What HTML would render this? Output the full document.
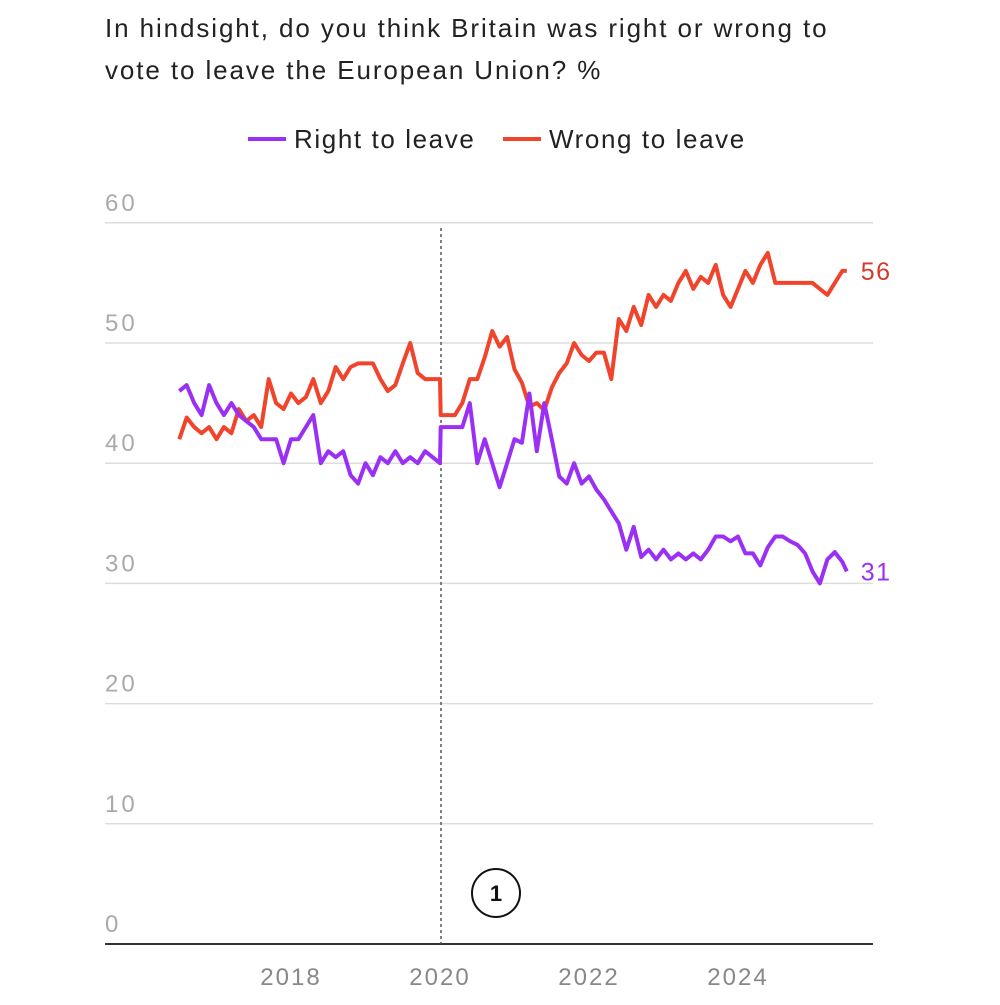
<!DOCTYPE html>
<html><head><meta charset="utf-8"><style>
body{margin:0;background:#fff;font-family:"Liberation Sans",sans-serif}
svg text{font-family:"Liberation Sans",sans-serif}
</style></head><body>
<svg width="1000" height="1000">
<text x="105" y="37" font-size="26" letter-spacing="1.9" fill="#222">In hindsight, do you think Britain was right or wrong to</text>
<text x="105" y="79" font-size="26" letter-spacing="1.9" fill="#222">vote to leave the European Union? %</text>
<g>
<line x1="248" y1="139" x2="286" y2="139" stroke="#9b30f5" stroke-width="4"/>
<text x="294" y="148" font-size="26" letter-spacing="1.6" fill="#222">Right to leave</text>
<line x1="503" y1="139" x2="541" y2="139" stroke="#f0442c" stroke-width="4"/>
<text x="549" y="148" font-size="26" letter-spacing="1.6" fill="#222">Wrong to leave</text>
</g>
<g id="grid"></g><g id="lines"></g>
</svg>
<script>
const yTicks=[0,10,20,30,40,50,60];
const xTicks=[2018,2020,2022,2024];
const years=[2016.5,2016.6,2016.7,2016.8,2016.9,2017.0,2017.1,2017.2,2017.3,2017.4,
2017.5,2017.6,2017.7,2017.8,2017.9,2018.0,2018.1,2018.2,2018.3,2018.4,
2018.5,2018.6,2018.7,2018.8,2018.9,2019.0,2019.1,2019.2,2019.3,2019.4,
2019.5,2019.6,2019.7,2019.8,2019.9,2020.0,
2020.01,
2020.1,2020.2,2020.3,2020.4,2020.5,2020.6,2020.7,2020.8,2020.9,2021.0,
2021.1,2021.2,2021.3,2021.4,2021.5,2021.6,2021.7,2021.8,2021.9,2022.0,
2022.1,2022.2,2022.3,2022.4,2022.5,2022.6,2022.7,2022.8,2022.9,2023.0,
2023.1,2023.2,2023.3,2023.4,2023.5,2023.6,2023.7,2023.8,2023.9,2024.0,
2024.1,2024.2,2024.3,2024.4,2024.5,2024.6,2024.7,2024.8,2024.9,2025.0,
2025.1,2025.2,2025.3,2025.4,2025.46];
const rightVals=[46,46.5,45,44,46.5,45,44,45,44,43.5,
43,42,42,42,40,42,42,43,44,40,
41,40.5,41,39,38.3,40,39,40.5,40,41,
40,40.5,40,41,40.5,40,
43,
43,43,43,45,40,42,40,38,40,42,
41.7,45.8,41,45,42,38.9,38.3,40,38.3,38.9,
37.8,37,36,35,32.8,34.7,32.2,32.8,32,32.8,
32,32.5,32,32.5,32,32.8,33.9,33.9,33.5,33.9,
32.5,32.5,31.5,33,33.9,33.9,33.5,33.2,32.5,31,
30,32,32.6,31.8,31];
const wrongVals=[42,43.8,43,42.5,43,42,43,42.5,44.5,43.5,
44,43,47,45,44.5,45.8,45,45.5,47,45,
46,48,47,48,48.3,48.3,48.3,47,46,46.5,
48.3,50,47.5,47,47,47,
44,
44,44,45,47,47,48.8,51,49.7,50.5,47.8,
46.7,44.7,45,44.4,46.3,47.5,48.3,50,49,48.5,
49.2,49.2,47,52,51,53,51.5,54,53,54,
53.5,55,56,54.5,55.5,55,56.5,54,53,54.5,
56,55,56.5,57.5,55,55,55,55,55,55,
54.5,54,55,56,56];
const X=y=>291+(y-2018)*74.5, Y=v=>944-v*12.02;
const NS='http://www.w3.org/2000/svg';
const grid=document.getElementById('grid'), lines=document.getElementById('lines');
function mk(tag,attrs,parent){const e=document.createElementNS(NS,tag);for(const k in attrs)e.setAttribute(k,attrs[k]);parent.appendChild(e);return e;}
yTicks.forEach(t=>{
 if(t>0){const l=mk('line',{x1:105,x2:873,y1:Y(t),y2:Y(t),stroke:'#ddd','stroke-width':1.5},grid);
 
 }
 const tx=mk('text',{x:105,y:Y(t)-12,'font-size':24,'letter-spacing':3,fill:'#aaa'},grid);tx.textContent=t;
 
 
});
xTicks.forEach(t=>{const tx=mk('text',{x:X(t),y:985,'font-size':24,'letter-spacing':2,fill:'#888','text-anchor':'middle'},grid);tx.textContent=t;
 
 });
const ax=mk('line',{x1:105,x2:873,y1:944,y2:944,stroke:'#333','stroke-width':2},grid);


const vl=mk('line',{x1:X(2020.0)+1,x2:X(2020.0)+1,y1:228,y2:944,stroke:'#556','stroke-width':1.5,'stroke-dasharray':'3,3'},grid);


const c=mk('circle',{cx:496,cy:893,r:24,fill:'#fff',stroke:'#111','stroke-width':2},grid);


const ct=mk('text',{x:496,y:901,'font-size':22,'font-weight':'bold','text-anchor':'middle',fill:'#111'},grid);ct.textContent='1';


function series(xs,vs,col,lcol,name){
 const d=xs.map((x,i)=>(i?'L':'M')+X(x).toFixed(1)+','+Y(vs[i]).toFixed(1)).join('');
 const p=mk('path',{d,fill:'none',stroke:col,'stroke-width':4,'stroke-linejoin':'round'},lines);
 
 
 const last=vs[vs.length-1];
 const t=mk('text',{x:X(xs[xs.length-1])+14,y:Y(last)+9,'font-size':25,'letter-spacing':1.5,fill:lcol},lines);t.textContent=last;
 
 
}
series(years,wrongVals,'#f0442c','#d8372a','wrong-to-leave');
series(years,rightVals,'#9b30f5','#9b30f5','right-to-leave');
</script>
</body></html>
